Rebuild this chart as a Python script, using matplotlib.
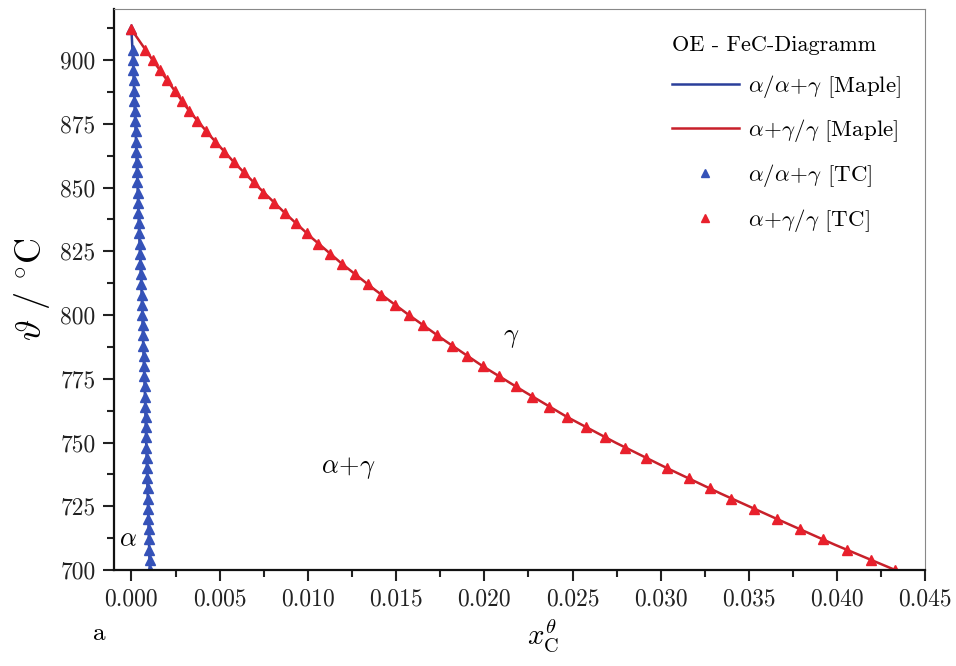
import matplotlib
matplotlib.use('Agg')
import matplotlib.pyplot as plt
from matplotlib.ticker import MultipleLocator

plt.rcParams['font.family'] = 'serif'
plt.rcParams['font.serif'] = ['cmr10', 'DejaVu Serif']
plt.rcParams['mathtext.fontset'] = 'cm'
plt.rcParams['axes.formatter.use_mathtext'] = True

# --- data ------------------------------------------------------------------
# TC points (temperature in degC, carbon mole fraction)
tc_T = [912, 904, 900, 896, 892, 888, 884, 880, 876, 872, 868, 864, 860,
        856, 852, 848, 844, 840, 836, 832, 828, 824, 820, 816, 812, 808,
        804, 800, 796, 792, 788, 784, 780, 776, 772, 768, 764, 760, 756,
        752, 748, 744, 740, 736, 732, 728, 724, 720, 716, 712, 708, 704, 700]

tc_alpha_x = [0.0, 0.00007, 0.00009, 0.00011, 0.00013, 0.00015, 0.00017,
              0.00019, 0.00021, 0.00024, 0.00026, 0.00028, 0.00030, 0.00032,
              0.00034, 0.00036, 0.00038, 0.00040, 0.00042, 0.00044, 0.00046,
              0.00049, 0.00051, 0.00053, 0.00056, 0.00058, 0.00060, 0.00062,
              0.00064, 0.00066, 0.00067, 0.00069, 0.00071, 0.00073, 0.00075,
              0.00076, 0.00078, 0.00080, 0.00082, 0.00083, 0.00085, 0.00087,
              0.00088, 0.00090, 0.00092, 0.00093, 0.00095, 0.00096, 0.00098,
              0.00100, 0.00101, 0.00103, 0.00104]

tc_gamma_x = [0.0, 0.00076, 0.00120, 0.00162, 0.00203, 0.00245, 0.00285,
              0.00328, 0.00373, 0.00425, 0.00475, 0.00526, 0.00580, 0.00637,
              0.00695, 0.00748, 0.00808, 0.00870, 0.00930, 0.00995, 0.01060,
              0.01126, 0.01195, 0.01266, 0.01340, 0.01416, 0.01492, 0.01573,
              0.01650, 0.01734, 0.01818, 0.01902, 0.01990, 0.02082, 0.02180,
              0.02272, 0.02368, 0.02470, 0.02575, 0.02685, 0.02800, 0.02918,
              0.03035, 0.03160, 0.03280, 0.03400, 0.03530, 0.03660, 0.03790,
              0.03920, 0.04053, 0.04190, 0.04330]

# Maple curves
maple_T = [912, 900, 890, 880, 870, 860, 850, 840, 830, 820, 810, 800,
           790, 780, 770, 760, 750, 740, 730, 720, 710, 700]
maple_alpha_x = [0.0, 0.00009, 0.00014, 0.00019, 0.00025, 0.00030, 0.00035,
                 0.00040, 0.00045, 0.00051, 0.00057, 0.00062, 0.00066,
                 0.00071, 0.00076, 0.00080, 0.00084, 0.00088, 0.00092,
                 0.00096, 0.00100, 0.00104]
maple_gamma_x = [0.0, 0.00120, 0.00224, 0.00328, 0.00450, 0.00580, 0.00722,
                 0.00870, 0.01027, 0.01195, 0.01378, 0.01573, 0.01776,
                 0.01990, 0.02226, 0.02470, 0.02743, 0.03035, 0.03340,
                 0.03660, 0.03985, 0.04330]

BLUE_LINE = '#2a3f9a'
RED_LINE = '#c8202a'
BLUE_MK = '#3552b8'
RED_MK = '#e8202c'

fig = plt.figure(figsize=(9.56, 6.66), dpi=100)
ax = fig.add_axes([0.119, 0.144, 0.849, 0.8425])

ax.plot(maple_alpha_x, maple_T, color=BLUE_LINE, lw=1.8,
        label=r'$\alpha/\alpha\!+\!\gamma$ [Maple]')
ax.plot(maple_gamma_x, maple_T, color=RED_LINE, lw=1.8,
        label=r'$\alpha\!+\!\gamma/\gamma$ [Maple]')
ax.plot(tc_alpha_x, tc_T, ls='none', marker='^', ms=7.5, color=BLUE_MK,
        label=r'$\alpha/\alpha\!+\!\gamma$ [TC]')
ax.plot(tc_gamma_x, tc_T, ls='none', marker='^', ms=7.5, color=RED_MK,
        label=r'$\alpha\!+\!\gamma/\gamma$ [TC]')

ax.set_xlim(-0.001, 0.045)
ax.set_ylim(700, 920)
ax.xaxis.set_major_locator(MultipleLocator(0.005))
ax.xaxis.set_minor_locator(MultipleLocator(0.0025))
ax.yaxis.set_major_locator(MultipleLocator(25))
ax.yaxis.set_minor_locator(MultipleLocator(12.5))
ax.xaxis.set_major_formatter(plt.FormatStrFormatter('%.3f'))
ax.yaxis.set_major_formatter(plt.FormatStrFormatter('%d'))

ax.tick_params(which='both', direction='out', top=False, right=False,
               labelsize=17, width=1.5, colors='#222222')
ax.tick_params(which='major', length=8, pad=5)
ax.tick_params(which='minor', length=5)
for side in ('left', 'bottom'):
    ax.spines[side].set_linewidth(1.6)
    ax.spines[side].set_color('#111111')
for side in ('top', 'right'):
    ax.spines[side].set_linewidth(0.8)
    ax.spines[side].set_color('#888888')

ax.set_ylabel(r'$\vartheta\ /\ ^{\circ}\mathrm{C}$', fontsize=26, labelpad=6)
ax.set_xlabel(r'$x_{\mathrm{C}}^{\theta}$', fontsize=21, labelpad=2)
ax.xaxis.set_label_coords(0.529, -0.085)

# phase region labels
ax.text(0.0215, 791, r'$\gamma$', fontsize=19, ha='center', va='center')
ax.text(0.0123, 740, r'$\alpha\!+\!\gamma$', fontsize=19, ha='center', va='center')
ax.text(-0.0002, 712, r'$\alpha$', fontsize=19, ha='center', va='center')

leg = ax.legend(loc='upper right', bbox_to_anchor=(0.995, 0.99),
                frameon=False, fontsize=16.5, title='OE - FeC-Diagramm',
                title_fontsize=16, handlelength=2.9, handletextpad=0.4,
                labelspacing=0.78, markerscale=0.7)
leg._legend_box.align = 'left'

fig.text(0.097, 0.048, 'a', fontsize=18, ha='left', va='center')

fig.savefig('out.png', dpi=100)
